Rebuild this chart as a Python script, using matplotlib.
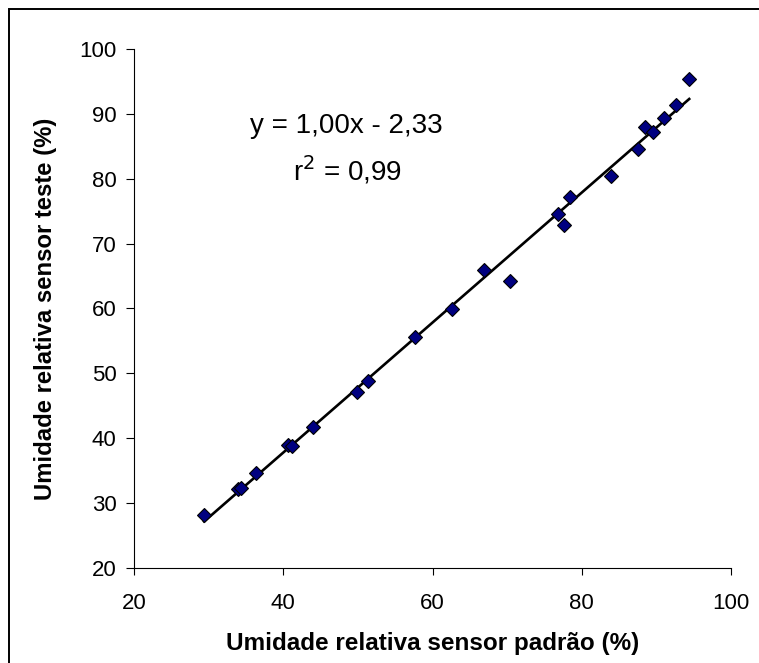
import numpy as np
import matplotlib
matplotlib.use("Agg")
import matplotlib.pyplot as plt
from matplotlib.patches import Rectangle

plt.rcParams["font.family"] = ["Liberation Sans", "DejaVu Sans"]

# Leituras dos dois sensores (%)
ur_padrao = [29.4, 34.0, 34.3, 36.3, 40.7, 41.2, 44.0, 49.9, 51.4, 57.7, 62.6,
             66.9, 70.4, 76.8, 77.6, 78.4, 83.9, 87.6, 88.5, 89.5, 91.0, 92.6, 94.4]
ur_teste = [28.2, 32.2, 32.4, 34.6, 38.9, 38.8, 41.8, 47.2, 48.9, 55.6, 59.9,
            65.9, 64.3, 74.6, 72.9, 77.2, 80.4, 84.6, 87.9, 87.2, 89.3, 91.3, 95.3]

eq_text = "y = 1,00x - 2,33"
r2_text = "r$^2$ = 0,99"

x = np.array(ur_padrao)
y = np.array(ur_teste)

# reta de regressao
z = np.polyfit(x, y, 1)
p = np.poly1d(z)
xl = np.array([x.min(), x.max()])

fig = plt.figure(figsize=(7.59, 6.63), dpi=100)
ax = fig.add_axes([134 / 759, 1 - 568 / 663, (731 - 134) / 759, (568 - 49) / 663])

ax.plot(xl, p(xl), color="black", linewidth=1.9, zorder=2)
ax.plot(x, y, linestyle="none", marker="D", markersize=7.2,
        markerfacecolor="#000080", markeredgecolor="black", markeredgewidth=0.8, zorder=3)

ax.text(48.4, 88.1, eq_text, fontsize=20, ha="center", va="center")
ax.text(48.6, 81.3, r2_text, fontsize=20, ha="center", va="center")

ax.set_xlim(20, 100)
ax.set_ylim(20, 100)
ax.set_xticks(range(20, 101, 20))
ax.set_yticks(range(20, 101, 10))
ax.spines["top"].set_visible(False)
ax.spines["right"].set_visible(False)
ax.tick_params(axis="x", labelsize=16, length=5, width=0.8, pad=13, direction="out")
ax.tick_params(axis="y", labelsize=16, length=5.5, width=0.8, pad=7, direction="out")

ax.set_xlabel("Umidade relativa sensor padrão (%)", fontsize=17.5, fontweight="bold", labelpad=13)
ax.set_ylabel("Umidade relativa sensor teste (%)", fontsize=17.2, fontweight="bold", labelpad=16)

# moldura do grafico (so aparecem as bordas esquerda e superior)
fig.add_artist(Rectangle((9 / 759, -0.1), 1.2, 1.1 - 9 / 663, transform=fig.transFigure,
                         fill=False, edgecolor="black", linewidth=1.4))

fig.savefig("out.png", dpi=100)
